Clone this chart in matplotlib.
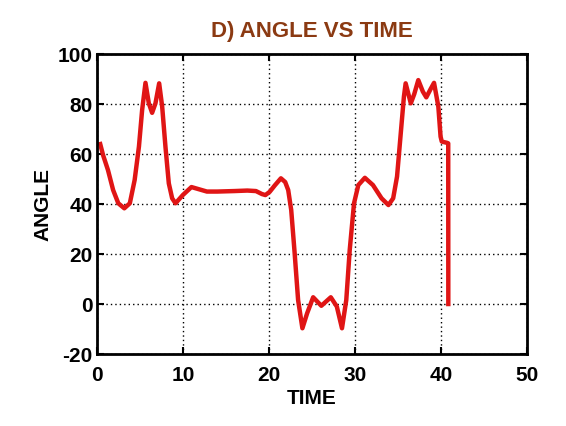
import matplotlib
matplotlib.use("Agg")
from matplotlib import pyplot as plt

time = [0.4, 0.73, 1.3, 1.9, 2.5, 3.2, 3.84, 4.4, 4.9, 5.27, 5.66, 6.05, 6.43,
        6.82, 7.25, 7.6, 7.98, 8.37, 8.76, 9.15, 10.0, 11.0, 11.8, 12.8, 14.0,
        16.0, 17.5, 18.5, 19.2, 19.6, 20.1, 20.7, 21.4, 21.9, 22.25, 22.6, 23.0,
        23.4, 23.9, 24.45, 25.15, 26.1, 27.2, 27.9, 28.5, 29.0, 29.4, 29.9,
        30.4, 31.16, 32.1, 33.1, 33.9, 34.45, 34.9, 35.3, 35.7, 35.9, 36.5,
        36.9, 37.37, 37.9, 38.3, 38.8, 39.2, 39.7, 39.96, 40.1, 40.7, 40.85,
        40.86]
angle = [64, 59.6, 53.6, 45.6, 40.3, 38.3, 40.3, 49.6, 63, 77.6, 88.5, 80.3,
         76.5, 80.3, 88.3, 79, 63, 48.3, 42.3, 40.3, 43.6, 46.8, 46, 45, 45,
         45.2, 45.4, 45.2, 44.0, 43.6, 44.9, 47.5, 50.3, 48.8, 45.6, 37.6, 20.3,
         1.6, -9.7, -3.7, 2.7, -0.7, 2.7, -1, -9.7, 1.6, 21.6, 40.3,
         47.6, 50.5, 47.6, 42.3, 39.6, 42.3, 51, 67, 83, 88.3, 80.3,
         84, 89.6, 85, 82.7, 86, 88.5, 79, 67, 65, 64.5, 64.3,
         0]

xticks = [0, 10, 20, 30, 40, 50]
yticks = [-20, 0, 20, 40, 60, 80, 100]

plt.rcParams["font.family"] = ["Liberation Sans", "DejaVu Sans"]
plt.rcParams["font.weight"] = "bold"
plt.rcParams["axes.unicode_minus"] = False

fig = plt.figure(figsize=(5.66, 4.26), dpi=100)
ax = fig.add_axes([0.171, 0.169, 0.760, 0.704])

ax.plot(time, angle, color="#e01515", linewidth=3.2, solid_joinstyle="round")

ax.set_xlim(0, 50)
ax.set_ylim(-20, 100)
ax.set_xticks(xticks)
ax.set_yticks(yticks)
ax.grid(True, color="black", linestyle=(0, (1, 2.2)), linewidth=1.0)
ax.tick_params(direction="in", length=5, width=1.5, top=True, right=True,
               labelsize=15)
ax.tick_params(axis="x", pad=8.5)
ax.tick_params(axis="y", pad=3)
for lbl in ax.get_xticklabels() + ax.get_yticklabels():
    lbl.set_fontweight("bold")
for sp in ax.spines.values():
    sp.set_linewidth(2)

ax.set_xlabel("TIME", fontsize=15, fontweight="bold", labelpad=3)
ax.set_ylabel("ANGLE", fontsize=15, fontweight="bold", labelpad=4)
ax.set_title("D) ANGLE VS TIME", fontsize=16, fontweight="bold",
             color="#8b3a12", pad=12)

fig.savefig("out.png", dpi=100)
